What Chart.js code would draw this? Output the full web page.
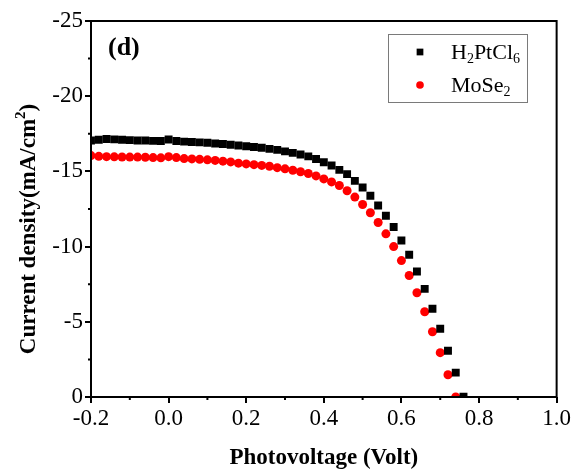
<!DOCTYPE html>
<html>
<head>
<meta charset="utf-8">
<script src="https://cdn.jsdelivr.net/npm/chart.js@4.4.0/dist/chart.umd.min.js"></script>
<style>
  html,body{margin:0;padding:0;background:#fff;}
  canvas{display:block;}
</style>
</head>
<body>
<canvas id="c" width="573" height="470"></canvas>
<script>
// photovoltage (V)
const voltage = [
  -0.20,-0.18,-0.16,-0.14,-0.12,-0.10,-0.08,-0.06,-0.04,-0.02,
   0.00, 0.02, 0.04, 0.06, 0.08, 0.10, 0.12, 0.14, 0.16, 0.18,
   0.20, 0.22, 0.24, 0.26, 0.28, 0.30, 0.32, 0.34, 0.36, 0.38,
   0.40, 0.42, 0.44, 0.46, 0.48, 0.50, 0.52, 0.54, 0.56, 0.58,
   0.60, 0.62, 0.64, 0.66, 0.68, 0.70, 0.72, 0.74, 0.76
];

// current density (mA/cm2)
const h2ptcl6 = [
  -17.05,-17.10,-17.15,-17.13,-17.10,-17.08,-17.06,-17.05,-17.03,-17.02,
  -17.12,-17.02,-16.98,-16.95,-16.93,-16.90,-16.86,-16.82,-16.77,-16.72,
  -16.67,-16.62,-16.57,-16.50,-16.43,-16.33,-16.23,-16.12,-16.00,-15.82,
  -15.61,-15.39,-15.10,-14.82,-14.37,-13.93,-13.38,-12.73,-12.05,-11.30,
  -10.41,-9.46,-8.35,-7.19,-5.87,-4.54,-3.08,-1.62,-0.02
];

const mose2 = [
  -16.05,-16.00,-15.98,-15.97,-15.96,-15.95,-15.95,-15.94,-15.92,-15.90,
  -15.98,-15.92,-15.85,-15.83,-15.80,-15.77,-15.73,-15.68,-15.63,-15.55,
  -15.50,-15.45,-15.40,-15.34,-15.25,-15.17,-15.08,-14.98,-14.86,-14.70,
  -14.50,-14.30,-14.06,-13.71,-13.29,-12.80,-12.25,-11.60,-10.85,-10.00,
  -9.07,-8.08,-6.93,-5.67,-4.34,-2.95,-1.48,0.00
];

const xTickLabels = ["-0.2","0.0","0.2","0.4","0.6","0.8","1.0"];
const yTickLabels = ["0","-5","-10","-15","-20","-25"];
const xMinor = [-0.1,0.1,0.3,0.5,0.7,0.9];
const yMinor = [-2.5,-7.5,-12.5,-17.5,-22.5];

const SERIF = "'Liberation Serif','Times New Roman',serif";

function toPoints(ys){
  return ys.map((y,i)=>({x:voltage[i], y:y}));
}

// box, minor ticks, y title, panel label, legend
const extras = {
  id:"extras",
  afterDraw(chart){
    const ctx = chart.ctx;
    const a = chart.chartArea;
    const xs = chart.scales.x, ys = chart.scales.y;
    ctx.save();
    ctx.strokeStyle = "#000";
    ctx.lineWidth = 2;
    ctx.strokeRect(a.left, a.top, a.right-a.left, a.bottom-a.top);

    ctx.beginPath();
    xMinor.forEach(v=>{
      const px = xs.getPixelForValue(v);
      ctx.moveTo(px, a.bottom); ctx.lineTo(px, a.bottom+3);
    });
    yMinor.forEach(v=>{
      const py = ys.getPixelForValue(v);
      ctx.moveTo(a.left, py); ctx.lineTo(a.left-3, py);
    });
    ctx.stroke();

    // y axis title with superscript
    ctx.fillStyle = "#000";
    ctx.translate(27, 229);
    ctx.rotate(-Math.PI/2);
    const big = "bold 23px "+SERIF, small = "bold 15px "+SERIF;
    ctx.font = big;
    const p1 = "Current density(mA/cm", p3 = ")";
    const w1 = ctx.measureText(p1).width, w3 = ctx.measureText(p3).width;
    ctx.font = small;
    const w2 = ctx.measureText("2").width;
    let x0 = -(w1+w2+w3)/2;
    ctx.textBaseline = "alphabetic";
    ctx.font = big; ctx.fillText(p1, x0, 8);
    ctx.font = small; ctx.fillText("2", x0+w1, -2);
    ctx.font = big; ctx.fillText(p3, x0+w1+w2, 8);
    ctx.restore();

    ctx.save();
    ctx.fillStyle = "#000";
    ctx.font = "bold 26px "+SERIF;
    ctx.textBaseline = "alphabetic";
    ctx.fillText("(d)", 108, 55);

    // legend
    const L = {x:388, y:34, w:139, h:68};
    ctx.strokeStyle = "#7a7a7a";
    ctx.lineWidth = 1;
    ctx.strokeRect(L.x+0.5, L.y+0.5, L.w, L.h);
    const items = [
      {ds:0, parts:[["H",0],["2",1],["PtCl",0],["6",1]], y:52},
      {ds:1, parts:[["MoSe",0],["2",1]], y:85}
    ];
    items.forEach(it=>{
      const d = chart.data.datasets[it.ds];
      ctx.fillStyle = d.backgroundColor;
      Chart.helpers.drawPoint(ctx, {pointStyle:d.pointStyle, radius:d.pointRadius*0.85, borderWidth:0}, 420, it.y);
      ctx.fillStyle = "#000";
      let tx = 451;
      it.parts.forEach(([s,sub])=>{
        ctx.font = (sub ? "14px " : "22px ") + SERIF;
        ctx.fillText(s, tx, it.y + (sub ? 11 : 7));
        tx += ctx.measureText(s).width;
      });
    });
    ctx.restore();
  }
};

new Chart(document.getElementById("c"),{
  type:"scatter",
  data:{
    datasets:[
      {label:"H2PtCl6", data:toPoints(h2ptcl6), pointStyle:"rect", pointRadius:5.6,
       backgroundColor:"#000000", borderWidth:0, pointBorderWidth:0},
      {label:"MoSe2", data:toPoints(mose2), pointStyle:"circle", pointRadius:4.5,
       backgroundColor:"#ff0000", borderWidth:0, pointBorderWidth:0}
    ]
  },
  options:{
    responsive:false,
    animation:false,
    layout:{padding:{top:21,right:16,left:0,bottom:0}},
    plugins:{legend:{display:false}, tooltip:{enabled:false}},
    scales:{
      x:{
        type:"linear", min:-0.2, max:1.0,
        afterFit:s=>{ s.height = 73; },
        border:{display:false},
        grid:{drawOnChartArea:false, drawTicks:true, tickLength:6, lineWidth:2, color:"#000"},
        ticks:{stepSize:0.2, color:"#000", padding:2, font:{family:SERIF, size:23},
          callback:v=>xTickLabels[Math.round((v+0.2)/0.2)]},
        title:{display:true, text:"Photovoltage (Volt)", color:"#000",
          font:{family:SERIF, size:23, weight:"bold", lineHeight:1}, padding:{top:0,bottom:0}}
      },
      y:{
        type:"linear", min:-25, max:0, reverse:true,
        afterFit:s=>{ s.width = 91; },
        border:{display:false},
        grid:{drawOnChartArea:false, drawTicks:true, tickLength:6, lineWidth:2, color:"#000"},
        ticks:{stepSize:5, color:"#000", padding:2, font:{family:SERIF, size:23},
          callback:v=>yTickLabels[Math.round(-v/5)]}
      }
    }
  },
  plugins:[extras]
});
</script>
</body>
</html>
